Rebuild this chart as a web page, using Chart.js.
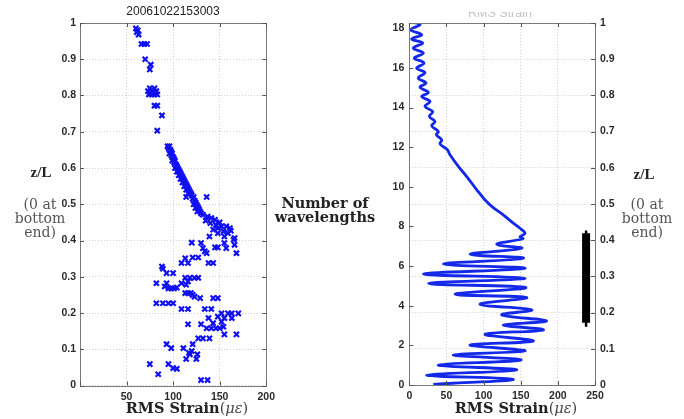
<!DOCTYPE html>
<html>
<head>
<meta charset="utf-8">
<script src="https://cdn.jsdelivr.net/npm/chart.js@4.4.0/dist/chart.umd.min.js"></script>
<style>
  html, body { margin:0; padding:0; background:#fff; }
  body { width:684px; height:419px; position:relative; overflow:hidden; }
  .box { position:absolute; }
  .t { position:absolute; text-align:center; white-space:nowrap; }
  .serifb { font-family:"DejaVu Serif", serif; font-weight:bold; color:#222; }
  .gray { font-family:"DejaVu Serif", serif; color:#555; font-size:14px; line-height:14px; }
  .zl { font-family:"Liberation Serif", serif; font-weight:bold; font-size:15px; line-height:16px; color:#222; }
  .xt { font-family:"DejaVu Serif", serif; font-size:14.5px; line-height:17px; }
  .xt b { color:#222; }
  .xt span { color:#444; }
</style>
</head>
<body>
<div class="box" style="left:0;top:0;width:280px;height:419px;"><canvas id="c1"></canvas></div>
<div class="box" style="left:370px;top:0;width:314px;height:419px;"><canvas id="c2"></canvas></div>

<div class="t" style="left:73px;top:4px;width:200px;font:12px 'Liberation Sans',Arial,sans-serif;line-height:14px;color:#222;">20061022153003</div>
<div class="t" style="left:400px;top:12px;width:200px;height:6px;overflow:hidden;"><div style="margin-top:-6px;font:12.5px 'Liberation Sans',Arial,sans-serif;line-height:14px;color:#c4c4c4;">RMS Strain</div></div>

<div class="t zl" style="left:1px;top:164px;width:80px;">z/L</div>
<div class="t gray" style="left:0px;top:197px;width:80px;">(0 at<br>bottom<br>end)</div>

<div class="t serifb" style="left:255px;top:196px;width:140px;font-size:14.5px;line-height:14px;">Number of<br>wavelengths</div>

<div class="t zl" style="left:604px;top:166px;width:80px;">z/L</div>
<div class="t gray" style="left:607px;top:197px;width:80px;">(0 at<br>bottom<br>end)</div>

<div class="t xt" style="left:107px;top:399px;width:160px;"><b>RMS Strain</b><span>(<i>με</i>)</span></div>
<div class="t xt" style="left:436px;top:399px;width:160px;"><b>RMS Strain</b><span>(<i>με</i>)</span></div>

<script>
// ---------------- Left panel: measured RMS strain vs z/L ----------------
const leftStrain = [
  60,62,61,63, 66,69,72, 70, 76,75,
  73,76,79,82,74,77,80,83,75,80, 80,83, 88, 83,
  94,96,95,97,98,96,99,98,100,101,99,102,101,103,104,102,105,106,104,107,108,106,109,110,108,111,112,110,113,114,112,115,116,114,117,118,116,119,120,122,114,136,121,123,124,122,125,126,124,127,128,126,129,130,
  132,137,141,145,140,146,148,152,157,161,143,148,154,159,162,155,166,139,150,135,
  120,130,132,145,148,155,157,165,166,168,136,134,113,109,116,121,127,138,143,88,89,93,100,113,118,123,127,82,93,91,95,98,101,104,109,114,116,113,116,119,121,123,129,143,148,82,89,95,100,109,116,134,141,
  152,159,163,170,138,148,155,163,116,130,136,141,146,150,154,143,152,155,168,127,132,139,121,93,98,111,118,126,114,125,75,95,100,104,84,130,137,120,117
];
const leftZ = [
  0.985,0.98,0.975,0.968, 0.942,0.942,0.942, 0.90, 0.885,0.872,
  0.812,0.812,0.812,0.812,0.803,0.803,0.803,0.803,0.82,0.82, 0.772,0.772, 0.745, 0.703,
  0.66,0.66,0.655,0.65,0.645,0.64,0.64,0.635,0.63,0.625,0.62,0.62,0.615,0.61,0.605,0.60,0.60,0.595,0.59,0.59,0.585,0.58,0.58,0.575,0.57,0.57,0.565,0.56,0.56,0.555,0.55,0.55,0.545,0.54,0.54,0.535,0.53,0.53,0.525,0.52,0.52,0.52,0.515,0.51,0.505,0.50,0.50,0.495,0.49,0.49,0.485,0.48,0.48,0.475,
  0.471,0.466,0.462,0.457,0.448,0.443,0.434,0.439,0.439,0.434,0.43,0.42,0.425,0.42,0.427,0.411,0.407,0.411,0.45,0.455,
  0.394,0.393,0.379,0.381,0.381,0.393,0.379,0.402,0.388,0.365,0.365,0.37,0.351,0.338,0.338,0.353,0.353,0.338,0.338,0.328,0.322,0.31,0.31,0.297,0.297,0.297,0.297,0.282,0.282,0.273,0.268,0.268,0.268,0.27,0.282,0.278,0.287,0.255,0.255,0.255,0.25,0.245,0.241,0.241,0.241,0.227,0.227,0.227,0.227,0.211,0.211,0.211,0.211,
  0.199,0.199,0.199,0.199,0.186,0.19,0.186,0.186,0.169,0.169,0.158,0.158,0.158,0.158,0.162,0.172,0.176,0.141,0.141,0.13,0.13,0.13,0.114,0.114,0.103,0.103,0.086,0.086,0.073,0.073,0.059,0.059,0.048,0.046,0.031,0.015,0.015,0.095,0.09
];
const leftXTicks = [0, 50, 100, 150, 200];
const zTicks = [0, 0.1, 0.2, 0.3, 0.4, 0.5, 0.6, 0.7, 0.8, 0.9, 1];

// ---------------- Right panel: simulated RMS strain vs wavelengths ----------------
const rightStrain = [
  6,14.4,1.8,16.7,3.2,18,5.4,18.9,6.7,19.8,9.9,21.1,12.1,22.5,14.4,25.6,16.7,27.9,21.1,31.5,27,34.6,30.2,39.1,36.4,43.6,41.4,51.2,54.8,66,77.3,90.8,102,113,126,140,149,155.8,
  149,153,117.7,151.4,81.8,153.6,45.8,155.8,19,155.8,26,156.8,61.6,158,95.2,164.8,124.4,185,126.6,180.5,102,167,81.8,155.8,59.3,150.4,39,144.6,23.4,140,32.3
];
const rightWaves = [
  18.3,18.18,17.93,17.68,17.46,17.26,17.0,16.75,16.5,16.25,15.99,15.77,15.49,15.24,15.03,14.76,14.56,14.31,14.06,13.8,13.55,13.3,13.08,12.79,12.63,12.37,12.17,11.87,11.62,11.03,10.52,9.85,9.34,8.95,8.6,8.17,7.91,7.66,
  7.48,7.38,7.1,6.9,6.6,6.4,6.1,5.89,5.6,5.39,5.12,4.92,4.58,4.41,4.07,3.79,3.54,3.23,3.03,2.78,2.56,2.22,2.02,1.72,1.52,1.26,1.01,0.76,0.5,0.29,0.03
];
const waveTicks = [0, 2, 4, 6, 8, 10, 12, 14, 16, 18];
const rightXTicks = [0, 50, 100, 150, 200, 250];
// black bar drawn against right z/L axis
const barStrain = 238;
const barZ = [0.172, 0.419];
const barWhiskerZ = [0.161, 0.427];

const zip = (xs, ys) => xs.map((x, i) => ({x, y: ys[i]}));
const setTicks = list => s => { s.ticks = list.map(v => ({value: v})); };
const fmt = v => String(Math.round(v * 10) / 10);

const tickFont = {family: "'Liberation Sans', Arial, sans-serif", size: 10.5, weight: 'bold'};
const tickColor = '#2a2a2a';
const gridCfg = {color: '#d0d0d0', lineWidth: 1, drawTicks: false};
const borderCfg = {display: false, dash: [1, 2]};

// frame + inward tick marks (MATLAB-like box)
function framePlugin(specs) {
  return {
    id: 'frame',
    afterDraw(chart) {
      const ctx = chart.ctx, a = chart.chartArea;
      ctx.save();
      ctx.strokeStyle = '#7a7a7a';
      ctx.lineWidth = 1;
      ctx.strokeRect(Math.round(a.left) + 0.5, Math.round(a.top) + 0.5, Math.round(a.right - a.left), Math.round(a.bottom - a.top));
      ctx.strokeStyle = '#555';
      const L = 4;
      specs.forEach(s => {
        const sc = chart.scales[s.id];
        sc.ticks.forEach(t => {
          const p = Math.round(sc.getPixelForValue(t.value)) + 0.5;
          ctx.beginPath();
          if (s.side === 'left') { ctx.moveTo(a.left, p); ctx.lineTo(a.left + L, p); }
          if (s.side === 'right') { ctx.moveTo(a.right, p); ctx.lineTo(a.right - L, p); }
          if (s.side === 'bottom') { ctx.moveTo(p, a.bottom); ctx.lineTo(p, a.bottom - L); }
          if (s.side === 'top') { ctx.moveTo(p, a.top); ctx.lineTo(p, a.top + L); }
          ctx.stroke();
        });
      });
      ctx.restore();
    }
  };
}

new Chart(document.getElementById('c1'), {
  type: 'scatter',
  data: {
    datasets: [{
      data: zip(leftStrain, leftZ),
      pointStyle: 'crossRot',
      pointRadius: 3.6,
      pointBorderWidth: 2.2,
      borderColor: '#1010f0',
      backgroundColor: '#1010f0'
    }]
  },
  options: {
    responsive: true, maintainAspectRatio: false, animation: false,
    layout: {padding: {top: 23, right: 13, bottom: 0, left: 0}},
    plugins: {legend: {display: false}, tooltip: {enabled: false}},
    scales: {
      x: {
        type: 'linear', min: 0, max: 200,
        afterBuildTicks: setTicks(leftXTicks),
        afterFit: s => { s.height = 33.5; },
        grid: gridCfg, border: borderCfg,
        ticks: {font: tickFont, color: tickColor, padding: 5, callback: v => v === 0 ? '' : String(v)}
      },
      y: {
        type: 'linear', min: 0, max: 1,
        afterBuildTicks: setTicks(zTicks),
        afterFit: s => { s.width = 80; },
        grid: gridCfg, border: borderCfg,
        ticks: {font: tickFont, color: tickColor, padding: 4, callback: fmt}
      }
    }
  },
  plugins: [framePlugin([{id:'y',side:'left'},{id:'y',side:'right'},{id:'x',side:'bottom'},{id:'x',side:'top'}])]
});

new Chart(document.getElementById('c2'), {
  type: 'scatter',
  data: {
    datasets: [
      {
        data: zip(rightStrain, rightWaves),
        showLine: true, borderColor: '#1428e8', borderWidth: 2.8,
        pointRadius: 0, tension: 0.4, xAxisID: 'x', yAxisID: 'y'
      },
      {
        data: barZ.map(z => ({x: barStrain, y: z})),
        showLine: true, borderColor: '#000', borderWidth: 8, borderCapStyle: 'butt',
        pointRadius: 0, xAxisID: 'x', yAxisID: 'y2'
      },
      {
        data: barWhiskerZ.map(z => ({x: barStrain, y: z})),
        showLine: true, borderColor: '#000', borderWidth: 2.5, borderCapStyle: 'butt',
        pointRadius: 0, xAxisID: 'x', yAxisID: 'y2'
      }
    ]
  },
  options: {
    responsive: true, maintainAspectRatio: false, animation: false,
    layout: {padding: {top: 23, right: 0, bottom: 0, left: 0}},
    plugins: {legend: {display: false}, tooltip: {enabled: false}},
    scales: {
      x: {
        type: 'linear', min: 0, max: 250,
        afterBuildTicks: setTicks(rightXTicks),
        afterFit: s => { s.height = 34; },
        grid: gridCfg, border: borderCfg,
        ticks: {font: tickFont, color: tickColor, padding: 5}
      },
      y: {
        type: 'linear', position: 'left', min: 0, max: 18.27,
        afterBuildTicks: setTicks(waveTicks),
        afterFit: s => { s.width = 39.3; },
        grid: {display: false, drawTicks: false}, border: {display: false},
        ticks: {font: tickFont, color: tickColor, padding: 5}
      },
      y2: {
        type: 'linear', position: 'right', min: 0, max: 1,
        afterBuildTicks: setTicks(zTicks),
        afterFit: s => { s.width = 89; },
        grid: gridCfg, border: borderCfg,
        ticks: {font: tickFont, color: tickColor, padding: 5, callback: fmt}
      }
    }
  },
  plugins: [framePlugin([{id:'y',side:'left'},{id:'y2',side:'right'},{id:'x',side:'bottom'},{id:'x',side:'top'}])]
});
</script>
</body>
</html>
